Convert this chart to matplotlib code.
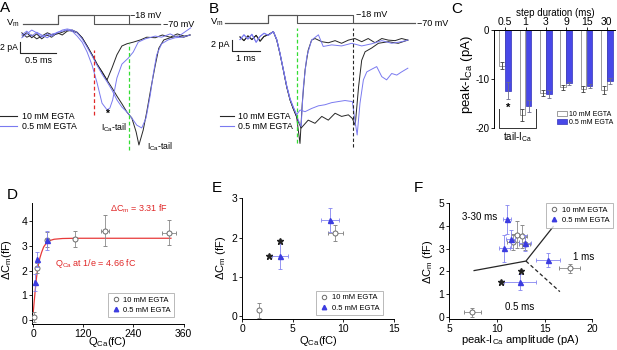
import matplotlib
matplotlib.use("Agg")
import matplotlib.pyplot as plt  # noqa: E402
import numpy as np  # noqa: E402
from matplotlib.lines import Line2D  # noqa: E402
from matplotlib.patches import Patch  # noqa: E402

plt.rcParams["font.family"] = ["Liberation Sans", "DejaVu Sans"]
plt.rcParams["mathtext.default"] = "regular"
plt.rcParams["axes.linewidth"] = 0.7

W, H = 617, 350
BLACK = "#262626"
BLUE_TR = "#7a7af0"
BLUE = "#4848e8"
GREY = "#7a7a7a"
LBL = ["10 mM EGTA", "0.5 mM EGTA"]

# ---- A: tail currents, 0.5 / 1 ms steps (time ms, current pA) ----
a_steps = [0.5, 1.0]
a_t_k05 = [-0.5, -0.44, -0.37, -0.3, -0.23, -0.16, -0.09, -0.01, 0.06, 0.13, 0.2, 0.27, 0.34, 0.41,
           0.48, 0.55, 0.62, 0.69, 0.76, 0.83, 0.9, 0.97, 1.06, 1.16, 1.25, 1.37, 1.47, 1.58, 1.68,
           1.78, 1.86]
a_i_k05 = [-0.2, 0.4, -0.5, 0.2, -0.7, 0.0, -0.4, 0.4, 0.0, 0.7, 0.9, 0.5, -0.5, -2.0, -3.6, -5.3,
           -6.7, -8.2, -6.0, -3.6, -2.0, -1.6, -1.3, -0.9, -0.4, -0.5, 0.0, -0.4, 0.2, -0.2, 0.0]
a_t_k1 = [-0.51, -0.44, -0.37, -0.3, -0.23, -0.15, -0.08, -0.01, 0.06, 0.13, 0.2, 0.27, 0.34, 0.41,
          0.48, 0.55, 0.62, 0.69, 0.76, 0.83, 0.9, 0.97, 1.04, 1.1, 1.14, 1.2, 1.25, 1.31, 1.37,
          1.42, 1.49, 1.58, 1.68, 1.77, 1.86]
a_i_k1 = [0.4, -0.4, 0.0, -0.7, -0.2, 0.4, 0.0, 0.2, 0.5, 0.9, 0.7, 0.4, -0.5, -2.0, -3.6, -5.3,
          -6.7, -8.2, -9.6, -11.1, -12.5, -14.0, -15.1, -17.6, -20.0, -17.3, -14.0, -9.6, -5.5,
          -2.4, -0.9, -0.5, -0.2, -0.4, 0.0]
a_t_b05 = [-0.51, -0.44, -0.37, -0.3, -0.23, -0.15, -0.08, -0.01, 0.06, 0.13, 0.2, 0.27, 0.34, 0.41,
           0.48, 0.55, 0.62, 0.69, 0.73, 0.77, 0.83, 0.9, 0.99, 1.06, 1.13, 1.23, 1.37, 1.46, 1.58,
           1.68, 1.77, 1.87]
a_i_b05 = [-0.5, 0.2, 0.9, 0.4, -0.4, 0.2, -0.2, 0.5, 0.7, 0.9, 0.7, -0.2, -1.3, -3.1, -5.5, -8.7,
           -12.4, -13.6, -13.3, -11.8, -7.8, -5.3, -4.2, -3.1, -1.3, -0.7, -0.2, -0.4, 0.2, -0.4,
           0.4, 1.3]
a_t_b1 = [-0.51, -0.44, -0.37, -0.3, -0.23, -0.15, -0.08, -0.01, 0.06, 0.13, 0.2, 0.27, 0.34, 0.41,
          0.48, 0.55, 0.62, 0.69, 0.76, 0.83, 0.9, 0.97, 1.04, 1.11, 1.18, 1.24, 1.3, 1.34, 1.39,
          1.46, 1.55, 1.65, 1.75, 1.86]
a_i_b1 = [0.0, 0.7, -0.2, 0.5, 0.0, -0.5, 0.2, 0.4, 0.9, 1.1, 0.9, 0.4, -0.7, -2.2, -3.8, -5.5,
          -7.1, -8.5, -10.0, -11.8, -13.1, -14.0, -15.1, -16.4, -16.9, -15.1, -10.9, -7.3, -3.6,
          -1.6, -0.9, -0.5, -0.4, 0.0]

# ---- B: 1 / 3 ms steps ----
b_steps = [1.0, 3.0]
b_pre_t = [-1.0, -0.86, -0.72, -0.58, -0.43, -0.29, -0.15, 0.0, 0.18, 0.3, 0.41, 0.53, 0.65, 0.77,
           0.88, 1.0]
b_pre_k = [0.2, -0.5, 0.4, -0.3, 0.5, -0.6, 0.3, 0.6, 1.2, -0.4, -2.9, -6.0, -9.2, -11.7, -13.3,
           -14.8]
b_pre_b = [-0.3, 0.6, -0.2, 0.7, -0.8, 0.3, 0.9, 0.5, 1.2, -0.3, -2.8, -5.9, -9.0, -11.5, -13.0,
           -14.5]
b_t_k1 = [1.06, 1.12, 1.2, 1.3, 1.41, 1.53, 1.65, 1.89, 2.12, 2.36, 2.59, 2.83, 3.06, 3.3, 3.53,
          3.77, 4.01, 4.24, 4.48, 4.71, 4.93]
b_i_k1 = [-17.4, -19.9, -12.3, -6.0, -2.3, -0.4, -0.1, -0.7, -0.9, -0.5, -1.0, -0.4, -0.1, -0.7,
          -0.1, -0.9, -0.1, -0.4, -0.5, -0.1, -0.4]
b_t_b1 = [1.06, 1.16, 1.24, 1.36, 1.53, 1.77, 1.94, 2.24, 2.59, 2.95, 3.3, 3.65, 4.01, 4.36, 4.71,
          4.93]
b_i_b1 = [-15.5, -16.7, -9.2, -3.5, -0.4, 0.6, -1.6, -1.3, -1.5, -1.0, -1.5, -1.1, -0.5, -1.0,
          -0.7, -0.4]
b_t_k3 = [1.06, 1.16, 1.41, 1.65, 1.89, 2.12, 2.36, 2.59, 2.83, 2.97, 3.07, 3.19, 3.3, 3.42, 3.65,
          3.89, 4.24, 4.59, 4.93]
b_i_k3 = [-15.8, -17.0, -15.5, -16.1, -14.8, -15.5, -14.2, -14.8, -14.5, -15.2, -16.5, -9.2, -4.2,
          -2.6, -1.9, -1.0, -0.7, -1.0, -0.4]
b_t_b3 = [1.12, 1.3, 1.53, 1.77, 2.0, 2.24, 2.47, 2.71, 2.97, 3.06, 3.14, 3.24, 3.36, 3.48, 3.65,
          3.83, 4.01, 4.18, 4.36, 4.54, 4.71, 4.93]
b_i_b3 = [-13.6, -13.9, -13.3, -12.8, -12.6, -12.2, -12.0, -11.8, -12.0, -15.5, -18.3, -12.3, -7.9,
          -6.4, -5.9, -5.4, -7.3, -7.9, -6.7, -7.0, -6.4, -5.7]

# ---- C: peak I_Ca per step duration ----
c_steps = ["0.5", "1", "3", "9", "15", "30"]
c_k = [-7.25, -17.3, -12.9, -11.7, -12.0, -12.2]
c_k_err = [0.7, 1.2, 0.6, 0.5, 0.6, 0.8]
c_b = [-12.4, -15.5, -13.1, -10.85, -11.4, -10.4]
c_b_err = [1.7, 1.3, 0.8, 0.3, 0.4, 0.6]

# ---- D: dCm vs Q_Ca ----
d_q_k = [1.7, 9.2, 32, 100, 172, 325]
d_c_k = [0.13, 2.12, 3.25, 3.28, 3.62, 3.54]
d_qe_k = [0.5, 0.6, 2, 3, 10, 17]
d_ce_k = [0.2, 0.2, 0.3, 0.33, 0.62, 0.5]
d_q_b = [3.75, 8.7, 33]
d_c_b = [1.52, 2.45, 3.22]
d_qe_b = [0.8, 0.9, 2.5]
d_ce_b = [0.33, 0.3, 0.4]
fit_q = [0, 2, 4, 6, 8, 10, 13, 16, 20, 25, 30, 40, 50, 70, 100, 330]
fit_c = [0.30, 0.70, 1.07, 1.42, 1.74, 2.00, 2.30, 2.52, 2.74, 2.96, 3.08, 3.22, 3.27, 3.30, 3.31,
         3.31]

# ---- E: 0.5 / 1 ms steps only ----
e_q_k = [1.65, 9.2]
e_c_k = [0.15, 2.12]
e_qe_k = [0.1, 0.75]
e_ce_k = [0.19, 0.2]
e_q_b = [3.75, 8.7]
e_c_b = [1.52, 2.45]
e_qe_b = [0.78, 0.9]
e_ce_b = [0.33, 0.3]
e_star_q = [2.65, 3.75]
e_star_c = [1.53, 1.91]

# ---- F: dCm vs peak I_Ca ----
f_i_k = [7.41, 17.65, 11.7, 12.1, 12.6, 12.9]
f_c_k = [0.19, 2.13, 3.30, 3.62, 3.54, 3.22]
f_ie_k = [0.9, 1.1, 0.6, 0.6, 0.6, 0.6]
f_ce_k = [0.2, 0.2, 0.35, 0.6, 0.5, 0.3]
f_i_b = [12.41, 15.38, 12.93, 10.77, 11.43, 11.08]
f_c_b = [1.54, 2.50, 3.26, 3.01, 3.41, 4.29]
f_ie_b = [1.65, 1.25, 0.6, 0.6, 0.5, 0.4]
f_ce_b = [0.35, 0.3, 0.35, 0.6, 0.4, 0.64]
f_star_i = [10.42, 12.48]
f_star_c = [1.54, 2.01]
f_split_x = [7.6, 13.04, 15.9]
f_split_y = [2.03, 2.45, 3.97]
f_dash_x = [13.04, 16.6]
f_dash_y = [2.45, 1.10]


def px_axes(fig, x0, y0, x1, y1):
    return fig.add_axes([x0 / W, 1 - y1 / H, (x1 - x0) / W, (y1 - y0) / H])


def protocol(ax, steps, t0, t1):
    for d in steps:
        ax.plot([t0, 0, 0, d, d, t1], [-70, -70, -18, -18, -70, -70], color="#555555", lw=0.8)
    ax.axis("off")


def scatter_panel(ax, qk, ck, qek, cek, qb, cb, qeb, ceb):
    ax.errorbar(qk, ck, xerr=qek, yerr=cek, fmt="o", ms=3.6, mfc="white", mec="#6a6a6a", mew=0.7,
                ecolor="#8a8a8a", elinewidth=0.6, capsize=1.6, capthick=0.6, zorder=3)
    ax.errorbar(qb, cb, xerr=qeb, yerr=ceb, fmt="^", ms=3.6, mfc="#3c3ce0", mec="#3c3ce0",
                ecolor="#8484f0", elinewidth=0.6, capsize=1.6, capthick=0.6, zorder=4)
    for s in ("top", "right"):
        ax.spines[s].set_visible(False)
    ax.tick_params(direction="out", length=2.5, width=0.6, labelsize=7.5, pad=1)


def legend_handles():
    return [Line2D([], [], ls="none", marker="o", ms=3.2, mfc="white", mec="#6a6a6a", mew=0.7),
            Line2D([], [], ls="none", marker="^", ms=3.2, mfc="#3c3ce0", mec="#3c3ce0")]


def small_legend(ax, loc, anchor):
    leg = ax.legend(legend_handles(), LBL, loc=loc, bbox_to_anchor=anchor, fontsize=5.5,
                    frameon=True, fancybox=False, edgecolor="#9a9a9a", handlelength=1.2,
                    handletextpad=0.4, labelspacing=0.35, borderpad=0.45, borderaxespad=0)
    leg.get_frame().set_linewidth(0.6)


def label_axes(ax, xl, yl, xpos, ypos):
    ax.set_xlabel(xl, fontsize=8)
    ax.set_ylabel(yl, fontsize=8)
    ax.xaxis.set_label_coords(*xpos)
    ax.yaxis.set_label_coords(*ypos)
    ax.xaxis.label.set_va("center")
    ax.yaxis.label.set_va("center")


fig = plt.figure(figsize=(W / 100, H / 100), dpi=100)

# ---------------- A ----------------
axA = px_axes(fig, 15, 24, 195, 155)
axA.set_xlim(-0.606, 1.930)
axA.set_ylim(-21.82, 2.0)
axA.axis("off")
axA.plot(a_t_k05, a_i_k05, color=BLACK, lw=0.7)
axA.plot(a_t_k1, a_i_k1, color=BLACK, lw=0.7)
axA.plot(a_t_b05, a_i_b05, color=BLUE_TR, lw=0.7)
axA.plot(a_t_b1, a_i_b1, color=BLUE_TR, lw=0.7)
axA.vlines(a_steps[0], -14.5, -2.7, color="#e02828", lw=0.9, ls=(0, (3, 2)))
axA.vlines(a_steps[1], -20.9, -1.5, color="#33dd33", lw=0.9, ls=(0, (3, 2)))
axA.plot([-0.53, -0.53, -0.03], [-1.27, -3.27, -3.27], color=BLACK, lw=0.8, clip_on=False)
axA.text(-0.56, -2.2, "2 pA", fontsize=6.2, ha="right", va="center")
axA.text(-0.28, -4.7, "0.5 ms", fontsize=6.5, ha="center", va="center")
axA.text(0.69, -14.4, "*", fontsize=7.5, ha="center", va="center", fontweight="bold")
axA.text(0.79, -16.8, "I$_{Ca}$-tail", fontsize=6.3, ha="center", va="center")
axA.text(1.25, -20.4, "I$_{Ca}$-tail", fontsize=6.3, ha="left", va="center")
fig.legend([Line2D([], [], color=BLACK, lw=0.8), Line2D([], [], color=BLUE_TR, lw=0.8)], LBL,
           loc="upper left", bbox_to_anchor=(0.0, 1 - 112 / H), frameon=False, fontsize=6.3,
           handlelength=1.9, handletextpad=0.6, labelspacing=0.15, borderpad=0, borderaxespad=0)

apA = px_axes(fig, 15, 10, 195, 28)
apA.set_xlim(-0.606, 1.930)
apA.set_ylim(-93.1, 10.9)
protocol(apA, a_steps, -0.5, 1.44)
apA.text(1.02, -18, "\u221218 mV", fontsize=6.5, ha="left", va="center")
apA.text(1.48, -70, "\u221270 mV", fontsize=6.5, ha="left", va="center")
apA.text(-0.54, -66, "V$_m$", fontsize=6.8, ha="right", va="center")

# ---------------- B ----------------
axB = px_axes(fig, 215, 24, 420, 155)
axB.set_xlim(-1.883, 5.36)
axB.set_ylim(-22.08, 2.64)
axB.axis("off")
axB.plot(b_pre_t + b_t_k1, b_pre_k + b_i_k1, color=BLACK, lw=0.7)
axB.plot(b_pre_t + b_t_k3, b_pre_k[:-1] + [-14.9] + b_i_k3, color=BLACK, lw=0.7)
axB.plot(b_pre_t + b_t_b1, b_pre_b + b_i_b1, color=BLUE_TR, lw=0.7)
axB.plot(b_pre_t + b_t_b3, b_pre_b + b_i_b3, color=BLUE_TR, lw=0.7)
axB.vlines(b_steps[0], -19.8, 1.9, color="#33dd33", lw=0.9, ls=(0, (3, 2)))
axB.vlines(b_steps[1], -20.6, 1.9, color=BLACK, lw=0.8, ls=(0, (3, 2)))
axB.plot([-1.3, -1.3, -0.3], [-0.4, -2.4, -2.4], color=BLACK, lw=0.8, clip_on=False)
axB.text(-1.36, -1.3, "2 pA", fontsize=6.5, ha="right", va="center")
axB.text(-0.8, -3.95, "1 ms", fontsize=6.5, ha="center", va="center")
fig.legend([Line2D([], [], color=BLACK, lw=0.8), Line2D([], [], color=BLUE_TR, lw=0.8)], LBL,
           loc="upper left", bbox_to_anchor=(220 / W, 1 - 112 / H), frameon=False, fontsize=6.3,
           handlelength=1.6, handletextpad=0.5, labelspacing=0.15, borderpad=0, borderaxespad=0)

apB = px_axes(fig, 215, 10, 420, 28)
apB.set_xlim(-1.883, 5.36)
apB.set_ylim(-99.5, 13.3)
protocol(apB, b_steps, -1.53, 5.18)
apB.text(3.1, -18, "\u221218 mV", fontsize=6.5, ha="left", va="center")
apB.text(5.26, -70, "\u221270 mV", fontsize=6.5, ha="left", va="center")
apB.text(-1.58, -66, "V$_m$", fontsize=6.8, ha="right", va="center")

# ---------------- C ----------------
axC = px_axes(fig, 494, 30, 615, 128)
x = np.arange(len(c_steps))
ekw = dict(ecolor="#3a3a3a", elinewidth=0.6, capsize=1.5, capthick=0.6)
axC.bar(x - 0.15, c_k, width=0.27, color="white", edgecolor="#8c8c8c", lw=0.6, yerr=c_k_err,
        error_kw=ekw)
axC.bar(x + 0.15, c_b, width=0.27, color=BLUE, edgecolor="#3434b8", lw=0.5, yerr=c_b_err,
        error_kw=dict(ekw, ecolor="#6a6a8a"))
axC.set_xlim(-0.55, 5.4)
axC.set_ylim(-20, 0)
axC.xaxis.tick_top()
axC.set_xticks(x)
axC.set_xticklabels(c_steps)
axC.set_yticks([0, -10, -20])
axC.set_yticklabels(["0", "-10", "-20"])
axC.spines["right"].set_visible(False)
axC.spines["bottom"].set_visible(False)
axC.tick_params(axis="x", length=2, width=0.6, labelsize=7.5, pad=0.5)
axC.tick_params(axis="y", length=2.5, width=0.6, labelsize=7, pad=1)
axC.set_xlabel("step duration (ms)", fontsize=7)
axC.xaxis.set_label_position("top")
axC.xaxis.set_label_coords(0.508, 1.173)
axC.xaxis.label.set_va("center")
axC.set_ylabel("peak-I$_{Ca}$ (pA)", fontsize=9.5)
axC.yaxis.set_label_coords(-0.225, 0.55)
axC.yaxis.label.set_va("center")
axC.text(0.15, -15.8, "*", fontsize=8, ha="center", va="center", fontweight="bold")
axC.plot([-0.29, -0.29, 1.5, 1.5], [-16.1, -20, -20, -16.1], color="#333333", lw=0.7,
         clip_on=False)
axC.text(0.6, -21.8, "tail-I$_{Ca}$", fontsize=7, ha="center", va="center")
axC.legend([Patch(facecolor="white", edgecolor="#8c8c8c", lw=0.6),
            Patch(facecolor=BLUE, edgecolor="#3434b8", lw=0.5)], LBL,
           loc="lower left", bbox_to_anchor=(0.52, 0.02), fontsize=5, frameon=False,
           handlelength=1.5, handleheight=0.8, handletextpad=0.3, labelspacing=0.15,
           borderpad=0, borderaxespad=0)

# ---------------- D ----------------
axD = px_axes(fig, 32, 202.7, 183.5, 323.7)
axD.plot(fit_q, fit_c, color="#e83a3a", lw=0.9, zorder=2)
scatter_panel(axD, d_q_k, d_c_k, d_qe_k, d_ce_k, d_q_b, d_c_b, d_qe_b, d_ce_b)
axD.set_xlim(-3, 360)
axD.set_ylim(-0.15, 4.75)
axD.set_xticks([0, 120, 240, 360])
axD.set_yticks([0, 1, 2, 3, 4])
axD.text(183, 4.49, r"$\Delta$C$_m$ = 3.31 fF", color="#e02828", fontsize=6.5, va="center")
axD.text(52, 2.27, "Q$_{Ca}$ at 1/e = 4.66 fC", color="#e02828", fontsize=6.5, va="center")
small_legend(axD, "lower left", (0.5, 0.055))
label_axes(axD, "Q$_{Ca}$(fC)", r"$\Delta$C$_m$(fF)", (0.495, -0.151), (-0.165, 0.53))

# ---------------- E ----------------
axE = px_axes(fig, 242.3, 198.3, 394, 319.3)
scatter_panel(axE, e_q_k, e_c_k, e_qe_k, e_ce_k, e_q_b, e_c_b, e_qe_b, e_ce_b)
axE.plot(e_star_q, e_star_c, ls="none", marker="*", ms=4.5, color="#222222", zorder=5)
axE.set_xlim(0, 15)
axE.set_ylim(-0.08, 3.0)
axE.set_xticks([0, 5, 10, 15])
axE.set_yticks([0, 1, 2, 3])
small_legend(axE, "lower left", (0.486, 0.036))
label_axes(axE, "Q$_{Ca}$(fC)", r"$\Delta$C$_m$ (fF)", (0.5, -0.18), (-0.14, 0.51))

# ---------------- F ----------------
axF = px_axes(fig, 449.3, 203.3, 592.3, 319.3)
axF.plot(f_split_x, f_split_y, color=BLACK, lw=0.9)
axF.plot(f_dash_x, f_dash_y, color=BLACK, lw=0.9, ls=(0, (3, 2)))
scatter_panel(axF, f_i_k, f_c_k, f_ie_k, f_ce_k, f_i_b, f_c_b, f_ie_b, f_ce_b)
axF.plot(f_star_i, f_star_c, ls="none", marker="*", ms=4.5, color="#222222", zorder=5)
axF.set_xlim(5, 20)
axF.set_ylim(-0.12, 5.0)
axF.set_xticks([5, 10, 15, 20])
axF.set_yticks([0, 1, 2, 3, 4, 5])
axF.text(6.3, 4.41, "3-30 ms", fontsize=7, va="center")
axF.text(18.0, 2.65, "1 ms", fontsize=7, va="center")
axF.text(10.8, 0.44, "0.5 ms", fontsize=7, va="center")
small_legend(axF, "upper left", (0.676, 1.0))
label_axes(axF, "peak-I$_{Ca}$ amplitude (pA)", r"$\Delta$C$_m$ (fF)", (0.494, -0.178),
           (-0.149, 0.49))

# panel letters
for letter, (lx, ly) in {"A": (5, 8), "B": (214, 9), "C": (457, 9), "D": (12, 195),
                         "E": (217, 188), "F": (418, 188)}.items():
    fig.text(lx / W, 1 - ly / H, letter, fontsize=11, ha="center", va="center")

fig.savefig("out.png", dpi=100)
